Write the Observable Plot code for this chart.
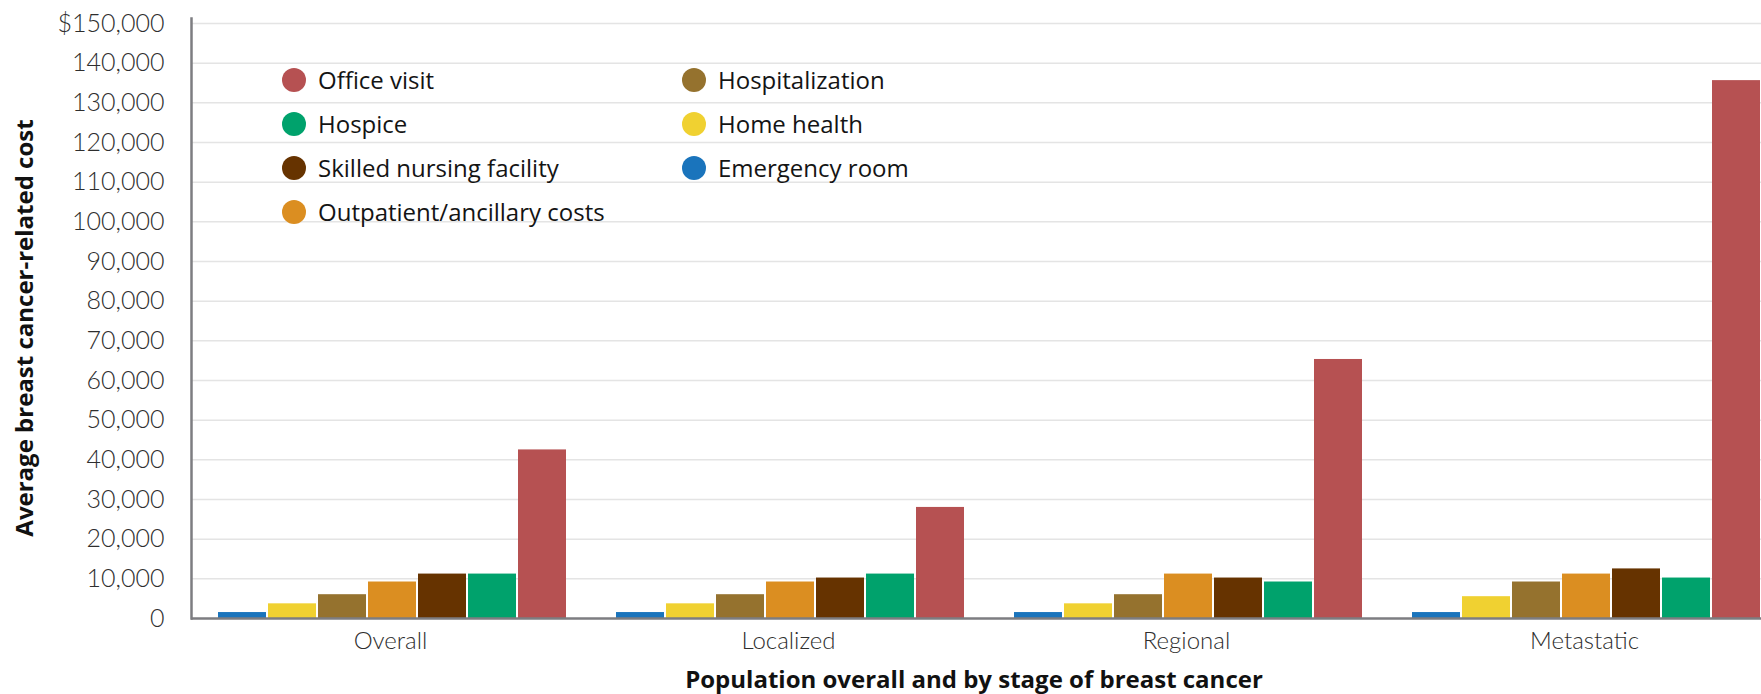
<!DOCTYPE html>
<html>
<head>
<meta charset="utf-8">
<script src="https://cdn.jsdelivr.net/npm/d3@7"></script>
<script src="https://cdn.jsdelivr.net/npm/@observablehq/plot@0.6"></script>
<style>
  html, body { margin: 0; padding: 0; background: #fff; overflow: hidden; }
  #wrap { position: relative; width: 1761px; height: 694px; overflow: hidden; font-family: "Open Sans", sans-serif; }
  #chart svg { display: block; }
  #legend { position: absolute; left: 282px; top: 58px; display: grid;
    grid-template-columns: 400px 400px; grid-template-rows: repeat(4, 44px); grid-auto-flow: column; }
  .item { display: flex; align-items: center; height: 44px; font-size: 24px; line-height: 1; color: #141414; white-space: nowrap; }
  .dot { width: 24px; height: 24px; border-radius: 50%; margin-right: 12px; flex: none; }
  .title { position: absolute; font-weight: 700; font-size: 24px; line-height: 24px; color: #111; white-space: nowrap; }
  #ytitle { left: 24px; top: 328px; transform: translate(-50%, -50%) rotate(-90deg); }
  #xtitle { left: 974px; top: 667px; transform: translateX(-50%); }
  #chart g[aria-label="y-axis tick label"] text, #chart g[aria-label="fx-axis tick label"] text { font-family: Lato, "Open Sans", sans-serif; }
</style>
</head>
<body>
<div id="wrap">
  <div id="chart"></div>
  <div id="legend"></div>
  <div class="title" id="ytitle">Average breast cancer-related cost</div>
  <div class="title" id="xtitle">Population overall and by stage of breast cancer</div>
</div>
<script>
const stages = ["Overall", "Localized", "Regional", "Metastatic"];
const series = ["Emergency room", "Home health", "Hospitalization", "Outpatient/ancillary costs", "Skilled nursing facility", "Hospice", "Office visit"];
const colors = ["#1a74bc", "#f0d131", "#95722e", "#db8e21", "#663300", "#00a26c", "#b65152"];

const overall    = [1500, 3700, 6000,  9200, 11200, 11200,  42500];
const localized  = [1500, 3700, 6000,  9200, 10200, 11200,  28000];
const regional   = [1500, 3700, 6000, 11200, 10200,  9200,  65300];
const metastatic = [1500, 5500, 9200, 11200, 12500, 10200, 135600];

const legendOrder = ["Office visit", "Hospice", "Skilled nursing facility", "Outpatient/ancillary costs", "Hospitalization", "Home health", "Emergency room"];

const yTicks = [0, 10000, 20000, 30000, 40000, 50000, 60000, 70000, 80000, 90000, 100000, 110000, 120000, 130000, 140000, 150000];
const yTickLabels = ["0", "10,000", "20,000", "30,000", "40,000", "50,000", "60,000", "70,000", "80,000", "90,000", "100,000", "110,000", "120,000", "130,000", "140,000", "$150,000"];

const valuesByStage = [overall, localized, regional, metastatic];
const data = stages.flatMap((stage, i) => series.map((s, j) => ({stage, series: s, value: valuesByStage[i][j]})));

const chart = Plot.plot({
  width: 1761,
  height: 694,
  marginLeft: 191,
  marginRight: -22,
  marginTop: 23,
  marginBottom: 76,
  style: {fontFamily: "'Open Sans', sans-serif", background: "transparent", overflow: "hidden"},
  fx: {domain: stages, padding: 0, label: null},
  x: {domain: series, paddingInner: 2 / 51, paddingOuter: 0.4216, align: 0.55, axis: null},
  y: {domain: [0, 150000]},
  color: {domain: series, range: colors},
  marks: [
    Plot.ruleY(yTicks.slice(1), {stroke: "#e4e4e4", strokeWidth: 1.5}),
    Plot.barY(data, {fx: "stage", x: "series", y: "value", fill: "series"}),
    Plot.ruleY([0], {stroke: "#7d7d81", strokeWidth: 2.5}),
    Plot.frame({anchor: "left", facetAnchor: "left", stroke: "#7d7d81", strokeWidth: 2.5, insetTop: -5}),
    Plot.axisY({ticks: yTicks, tickFormat: d => yTickLabels[yTicks.indexOf(d)], tickSize: 0, tickPadding: 27,
      fontSize: 25, fontWeight: 300, color: "#2e2e2e", label: null}),
    Plot.axisFx({anchor: "bottom", tickSize: 0, tickPadding: 13, fontSize: 24, fontWeight: 300, color: "#2e2e2e", label: null})
  ]
});
document.getElementById("chart").appendChild(chart);

const legend = document.getElementById("legend");
for (const name of legendOrder) {
  const item = document.createElement("div");
  item.className = "item";
  const dot = document.createElement("span");
  dot.className = "dot";
  dot.style.background = colors[series.indexOf(name)];
  const label = document.createElement("span");
  label.textContent = name;
  item.appendChild(dot);
  item.appendChild(label);
  legend.appendChild(item);
}
</script>
</body>
</html>
